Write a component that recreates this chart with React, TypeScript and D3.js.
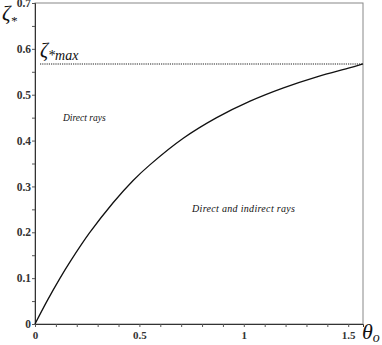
import { useEffect, useRef } from "react";
import * as d3 from "d3";

// values
const theta = [0, 0.06, 0.12, 0.17, 0.26, 0.375, 0.47, 0.55, 0.71, 0.87, 1.03, 1.19, 1.35, 1.51, 1.5708];
const zeta = [0, 0.052, 0.1, 0.137, 0.198, 0.265, 0.313, 0.347, 0.405, 0.45, 0.486, 0.515, 0.539, 0.559, 0.567];
const zetaMax = 0.567;
const xTickLabels = [0, 0.5, 1, 1.5];
const yTickLabels = [0, 0.1, 0.2, 0.3, 0.4, 0.5, 0.6, 0.7];

const W = 382;
const H = 345;
const serif = "Liberation Serif";

export default function App() {
  const ref = useRef<SVGSVGElement>(null);

  useEffect(() => {
    const svg = d3.select(ref.current);
    svg.selectAll("*").remove();

    const x = d3.scaleLinear().domain([0, Math.PI / 2]).range([35, 363]);
    const y = d3.scaleLinear().domain([0, 0.7]).range([324, 3]);

    // frame
    svg.append("rect")
      .attr("x", x(0)).attr("y", y(0.7))
      .attr("width", x(Math.PI / 2) - x(0)).attr("height", y(0) - y(0.7))
      .attr("fill", "none").attr("stroke", "#888").attr("stroke-width", 1);

    // y axis
    const yAxis = d3.axisLeft(y)
      .tickValues(d3.range(0, 0.7001, 0.05))
      .tickSize(3)
      .tickFormat((d) => {
        const v = +d;
        const hit = yTickLabels.find((t) => Math.abs(t - v) < 1e-6);
        return hit === undefined ? "" : d3.format("")(hit);
      });
    const gy = svg.append("g").attr("transform", `translate(${x(0)},0)`).call(yAxis);
    gy.attr("font-family", serif).attr("font-size", 11.5).attr("font-weight", "bold");
    gy.select(".domain").attr("stroke", "#333");
    gy.selectAll("line").attr("stroke", "#555");
    gy.selectAll("text").attr("fill", "#333").attr("x", -4);

    // x axis
    const xAxis = d3.axisBottom(x)
      .tickValues(d3.range(0, 1.5001, 0.1))
      .tickSize(3)
      .tickFormat((d) => {
        const v = +d;
        const hit = xTickLabels.find((t) => Math.abs(t - v) < 1e-6);
        return hit === undefined ? "" : d3.format("")(hit);
      });
    const gx = svg.append("g").attr("transform", `translate(0,${y(0)})`).call(xAxis);
    gx.attr("font-family", serif).attr("font-size", 11).attr("font-weight", "bold");
    gx.select(".domain").attr("stroke", "#333");
    gx.selectAll("line").attr("stroke", "#555");
    gx.selectAll("text").attr("fill", "#333").attr("y", 7);

    // dotted max line
    svg.append("line")
      .attr("x1", 40).attr("x2", x(Math.PI / 2))
      .attr("y1", y(zetaMax)).attr("y2", y(zetaMax))
      .attr("stroke", "#222").attr("stroke-width", 1.2)
      .attr("stroke-dasharray", "1.2,1");

    // curve
    const line = d3.line<number>()
      .x((_, i) => x(theta[i]))
      .y((d) => y(d))
      .curve(d3.curveCatmullRom.alpha(0.5));
    svg.append("path")
      .attr("d", line(zeta))
      .attr("fill", "none").attr("stroke", "#111").attr("stroke-width", 1.3);

    const labels = svg.append("g").attr("font-family", serif).attr("font-style", "italic").attr("fill", "#111");

    // axis titles
    const zl = labels.append("text").attr("x", 2).attr("y", 20).attr("font-size", 21);
    zl.append("tspan").text("ζ");
    zl.append("tspan").attr("font-size", 13).attr("dy", 5).text("*");

    const tl = labels.append("text").attr("x", 362).attr("y", 339).attr("font-size", 22);
    tl.append("tspan").text("θ");
    tl.append("tspan").attr("font-size", 14).attr("dy", 3).text("o");

    const zm = labels.append("text").attr("x", 40).attr("y", 57).attr("font-size", 20);
    zm.append("tspan").text("ζ");
    zm.append("tspan").attr("font-size", 14).attr("dy", 3).text("*max");

    labels.append("text").attr("x", 63).attr("y", 121).attr("font-size", 9.5).text("Direct rays");
    labels.append("text").attr("x", 192).attr("y", 212).attr("font-size", 10).attr("textLength", 103).text("Direct and indirect rays");
  }, []);

  return (
    <svg
      ref={ref}
      width={W}
      height={H}
      style={{ position: "absolute", left: 0, top: 0, background: "#fff" }}
    />
  );
}
